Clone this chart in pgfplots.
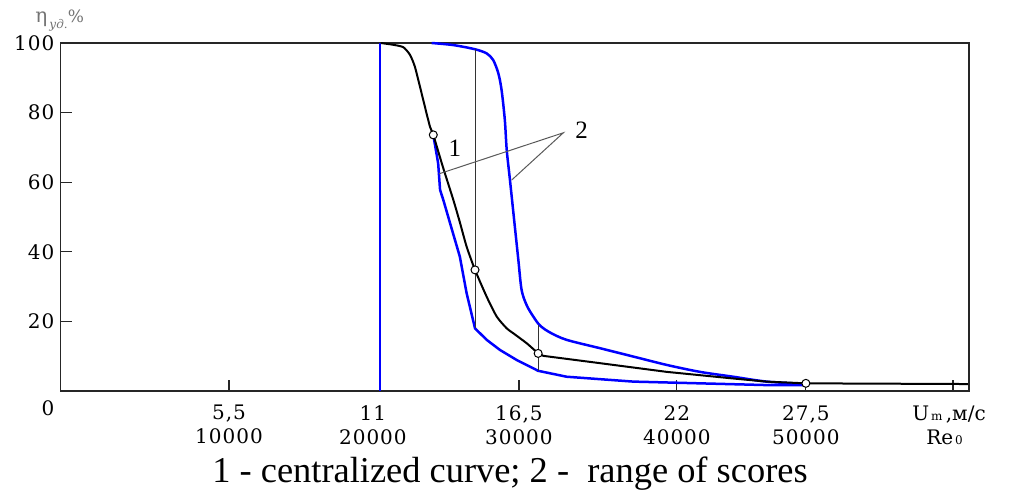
\documentclass[border=0pt]{standalone}
\usepackage{fontspec}
\setmainfont{Liberation Serif}
\newfontfamily\dvs{DejaVu Serif}
\newfontfamily\tickfont[LetterSpace=5]{DejaVu Serif}
\usepackage{pgfplots}
\pgfplotsset{compat=1.18}
\definecolor{pblue}{RGB}{0,0,255}
\begin{document}
\begin{tikzpicture}
\useasboundingbox (-30.35pt,-50.5pt) rectangle (481.15pt,195.5pt);
\begin{axis}[
  anchor=south west, at={(0pt,0pt)},
  scale only axis, width=454.15pt, height=174pt,
  xmin=0, xmax=33.52, ymin=0, ymax=100,
  axis line style={line width=0.7pt, black!85},
  tick style={black!85, line width=0.6pt},
  tick align=inside, major tick length=5.5pt,
  xtick pos=bottom, ytick pos=left,
  ytick={20,40,60,80,100},
  xtick={6.21,11.78,16.91,22.74,27.5,32.93},
  xticklabels={{5,5\\10000},{\hspace*{-7pt}11\\\hspace*{-7pt}20000},{16,5\\30000},{22\\40000},{27,5\\50000},{}},
  /pgf/number format/assume math mode=true,
  xticklabel style={align=center, font=\tickfont\fontsize{10}{12}\selectfont, inner sep=1pt, yshift=-6pt},
  yticklabel style={font=\tickfont\fontsize{10}{12}\selectfont, inner sep=1pt, xshift=-2pt},
  clip=false,
]
% left blue vertical boundary
\addplot[pblue, line width=1.25pt] coordinates {(11.78,0) (11.78,100)};
% lower blue curve
\addplot[pblue, line width=1.25pt] coordinates {
(13.75,73.6) (13.93,65.4) (14.00,57.8) (14.12,54.9) (14.37,48.2) (14.73,38.6)
(14.98,28.1) (15.29,18.0) (15.72,14.7) (16.21,11.8) (16.83,8.9) (17.62,5.8)
(18.67,4.1) (21.13,2.7) (23.59,2.2) (26.05,1.7) (27.5,1.7)};
% upper blue curve
\addplot[pblue, line width=1.25pt, smooth, tension=0.5] coordinates {
(13.69,100) (14.49,99.4) (15.29,98.2) (15.72,97.0) (15.96,95.1) (16.15,91.3)
(16.27,86.5) (16.39,77.9) (16.46,69.3) (16.58,60.6) (16.76,47.2) (16.89,37.6)
(17.01,29.0) (17.20,24.6) (17.44,21.4) (17.69,18.8) (18.06,16.8) (18.67,14.7)
(19.90,12.3) (21.13,9.9) (22.36,7.5) (23.59,5.5) (24.82,4.1) (26.05,2.7) (27.5,2.0)};
% vertical range lines
\addplot[black!80, line width=0.5pt] coordinates {(15.29,98.2) (15.29,18.0)};
\addplot[black!80, line width=0.5pt] coordinates {(17.62,18.9) (17.62,5.8)};
% centralized curve
\addplot[black, line width=1pt, smooth, tension=0.4] coordinates {
(11.81,100) (12.26,99.5) (12.64,98.8) (12.89,96.6) (13.07,93.2) (13.26,87.4)
(13.44,81.7) (13.63,75.9) (13.75,73.6) (14.10,64.5) (14.49,54.9) (14.73,48.5) (14.98,41.5) (15.29,34.8) (15.72,27.1)
(16.09,21.4) (16.46,18.0) (16.70,16.6) (17.20,13.7) (17.62,10.8)};
\addplot[black, line width=1pt] coordinates {
(17.62,10.8) (17.81,10.1)
(19.90,8.0) (22.36,5.5) (24.81,3.6) (26.05,2.7) (27.50,2.2) (33.48,2.0)};
% leader lines
\addplot[black!65, line width=0.5pt] coordinates {(13.96,62.4) (18.55,74.2) (16.64,60.6)};
% points on the centralized curve
\addplot[only marks, mark=*, mark size=2pt, mark options={fill=white, draw=black, line width=0.5pt}]
 coordinates {(13.75,73.6) (15.29,34.8) (17.62,10.8) (27.5,2.2)};
\node[font=\fontsize{12.5}{14}\selectfont] at (axis cs:14.55,69.8) {1};
\node[font=\fontsize{12.5}{14}\selectfont] at (axis cs:19.22,75.0) {2};
\end{axis}
\node[font=\tickfont\fontsize{10}{12}\selectfont] at (-6.35pt,-8.5pt) {0};
\node[anchor=north west, align=left, inner sep=0pt, font=\dvs\fontsize{10}{12}\selectfont] at (425.6pt,-7.3pt)
  {U{\fontsize{6}{6}\selectfont\,m}\,,м/с\\[0pt]\hspace*{7pt}Re{\fontsize{6}{6}\selectfont\,0}};
\node[anchor=base west, inner sep=0pt, text=black!55, font=\dvs\fontsize{10}{10}\selectfont] at (-12.85pt,184pt)
  {η\raisebox{-3pt}{\fontsize{6}{6}\selectfont\itshape\,уд.}\fontsize{8.5}{8}\selectfont\%};
\node[anchor=base, font=\fontsize{18.2}{20}\selectfont] at (224.65pt,-46pt)
  {1 - centralized curve; 2 -\ \ range of scores};
\end{tikzpicture}
\end{document}
